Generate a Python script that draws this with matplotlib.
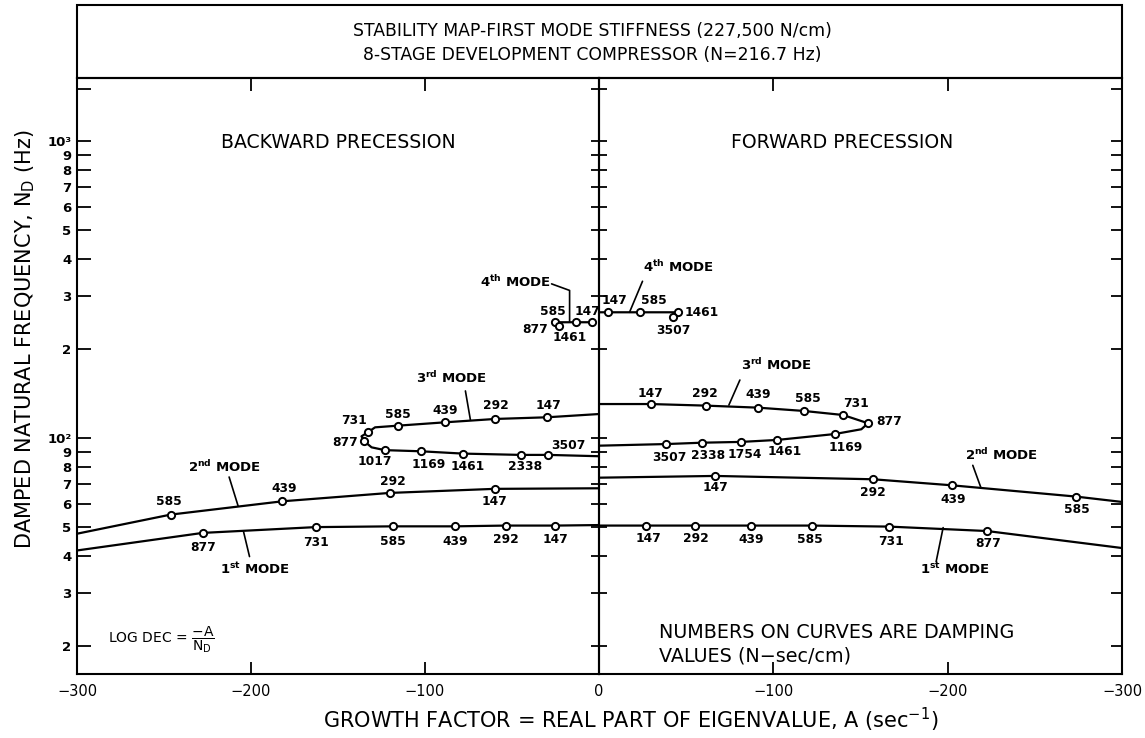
import matplotlib
matplotlib.use("Agg")
import matplotlib.pyplot as plt
from matplotlib.ticker import FixedLocator, FixedFormatter, NullLocator
from matplotlib.patches import Rectangle

plt.rcParams['font.family'] = ['DejaVu Sans']

# ---------------- data ----------------
# Backward precession (left panel): growth factor A (1/s), frequency (Hz), damping labels
b1_A = [-300, -227.8, -162.9, -118.4, -82.9, -53.7, -25.0, 0]
b1_f = [41.8, 47.9, 50.1, 50.4, 50.4, 50.7, 50.7, 50.9]
b1_lab = [None, '877', '731', '585', '439', '292', '147', None]

b2_A = [-300, -246.2, -182.0, -120.4, -60.0, 0]
b2_f = [47.6, 55.2, 61.2, 65.3, 67.4, 67.7]
b2_lab = [None, '585', '439', '292', '147', None]

b3_A = [0, -29.8, -59.5, -88.6, -115.7, -128.7, -132.8, -136.5, -134.8, -130.7, -123.1, -102.4, -78.4, -45.1, -29.1, 0]
b3_f = [120.4, 117.4, 115.9, 112.9, 110.0, 108.6, 104.5, 101.3, 97.4, 93.0, 91.0, 90.2, 88.6, 87.7, 87.7, 86.8]
b3_lab = [None, '147', '292', '439', '585', None, '731', None, '877', None, '1017', '1169', '1461', '2338', '3507', None]

b4_A = [-3.9, -13.5, -25.5, -23.1]
b4_f = [245.3, 245.3, 245.3, 238.8]
b4_lab = ['147', '1461', '585', '877']

# Forward precession (right panel)
f1_A = [0, -27.1, -54.8, -87.0, -122.2, -166.4, -222.6, -300]
f1_f = [50.7, 50.7, 50.7, 50.7, 50.7, 50.3, 48.6, 42.6]
f1_lab = [None, '147', '292', '439', '585', '731', '877', None]

f2_A = [0, -66.7, -157.2, -202.2, -273.4, -300]
f2_f = [73.5, 74.5, 72.6, 69.3, 63.5, 60.9]
f2_lab = [None, '147', '292', '439', '585', None]

f3_A = [0, -29.6, -61.5, -91.2, -117.6, -140.0, -154.3, -150.5, -135.2, -102.3, -81.6, -59.0, -38.6, 0]
f3_f = [130.1, 130.1, 128.5, 126.5, 123.3, 119.5, 112.1, 107.0, 103.1, 98.5, 97.0, 96.4, 95.4, 94.2]
f3_lab = [None, '147', '292', '439', '585', '731', '877', None, '1169', '1461', '1754', '2338', '3507', None]

f4_A = [0, -5.4, -23.3, -45.4, -42.5]
f4_f = [265, 265, 265, 265, 255]
f4_lab = [None, '147', '585', '1461', '3507']

ytick_vals = [20, 30, 40, 50, 60, 70, 80, 90, 100, 200, 300, 400, 500, 600, 700, 800, 900, 1000, 1500]
ytick_labels = ['2', '3', '4', '5', '6', '7', '8', '9', '10\u00b2',
                '2', '3', '4', '5', '6', '7', '8', '9', '10\u00b3', '']
xL_ticks = [-300, -200, -100, 0]
xL_labels = ['\u2212300', '\u2212200', '\u2212100', '0']
xR_ticks = [0, -100, -200, -300]
xR_labels = ['', '\u2212100', '\u2212200', '\u2212300']

# ---------------- layout (label offsets in pixels) ----------------
b1_off = [None, (0, -15), (0, -15), (0, -15), (0, -15), (0, -14), (0, -14), None]
b2_off = [None, (-2, 13), (2, 13), (3, 11), (0, -13), None]
b3_off = [None, (1, 12), (0, 13), (0, 12), (0, 11), None, (-14, 12), None, (-6, -1, 'right'), None,
          (-10, -11), (8, -13), (5, -13), (5, -12), (20, 9), None]
b4_off = [(-5, 11), (-6, -15), (-2, 11), (-11, -4, 'right')]
f1_off = [None, (2, -13), (1, -13), (1, -14), (-2, -14), (2, -15), (1, -12), None]
f2_off = [None, (0, -12), (0, -13), (2, -14), (1, -13), None]
f3_off = [None, (0, 11), (-1, 12), (0, 13), (4, 12), (13, 11), (8, 2, 'left'), None,
          (11, -13), (7, -12), (3, -13), (6, -13), (3, -13), None]
f4_off = [None, (6, 12), (14, 12), (6, 0, 'left'), (0, -13)]

W, H = 1145, 738
fig = plt.figure(figsize=(W / 100, H / 100), dpi=100)
fig.patch.set_facecolor('white')

x_left, x_mid, x_right = 77, 599, 1122
y_top, y_bot = 78, 674
axL = fig.add_axes([x_left / W, 1 - y_bot / H, (x_mid - x_left) / W, (y_bot - y_top) / H])
axR = fig.add_axes([x_mid / W, 1 - y_bot / H, (x_right - x_mid) / W, (y_bot - y_top) / H])

ymin, ymax = 16.04, 1630
LW = 1.6
for ax in (axL, axR):
    ax.set_yscale('log')
    ax.set_ylim(ymin, ymax)
    ax.yaxis.set_major_locator(FixedLocator(ytick_vals))
    ax.yaxis.set_minor_locator(NullLocator())
    ax.xaxis.set_minor_locator(NullLocator())
    for s in ax.spines.values():
        s.set_linewidth(1.5)
        s.set_color('black')
    ax.set_facecolor('none')

axL.set_xlim(-300, 0)
axR.set_xlim(0, -300)
axL.set_xticks(xL_ticks)
axL.set_xticklabels(xL_labels)
axR.set_xticks(xR_ticks)
axR.set_xticklabels(xR_labels)
for ax in (axL, axR):
    ax.tick_params(axis='x', bottom=True, top=True, direction='in', length=9, width=1.3,
                   labelsize=10.5, pad=7)

axL.yaxis.set_major_formatter(FixedFormatter(ytick_labels))
axL.tick_params(axis='y', left=True, right=False, direction='in', length=10, width=1.3,
                labelleft=True, labelsize=9.5, pad=4)
for t in axL.get_yticklabels():
    t.set_fontweight('bold')
axR.tick_params(axis='y', left=True, right=False, direction='inout', length=11, width=1.3,
                labelleft=False)
axR2 = axR.twinx()
axR2.set_yscale('log')
axR2.set_ylim(ymin, ymax)
axR2.yaxis.set_major_locator(FixedLocator(ytick_vals))
axR2.yaxis.set_minor_locator(NullLocator())
axR2.tick_params(axis='y', right=True, direction='in', length=8, width=1.3, labelright=False)
for s in axR2.spines.values():
    s.set_visible(False)


def draw_curve(ax, A, f, labels, offsets):
    ax.plot(A, f, color='black', lw=LW, solid_joinstyle='round', solid_capstyle='round', zorder=2)
    mA = [a for a, l in zip(A, labels) if l is not None]
    mf = [v for v, l in zip(f, labels) if l is not None]
    ax.plot(mA, mf, linestyle='none', marker='o', markersize=5.2, mfc='white', mec='black',
            mew=1.4, zorder=3)
    for a, v, l, o in zip(A, f, labels, offsets):
        if l is None or o is None or l == '':
            continue
        ha = o[2] if len(o) > 2 else 'center'
        ax.annotate(l, (a, v), xytext=(o[0], o[1]), textcoords='offset pixels', ha=ha,
                    va='center', fontsize=8.8, fontweight='bold', annotation_clip=False)


draw_curve(axL, b1_A, b1_f, b1_lab, b1_off)
draw_curve(axL, b2_A, b2_f, b2_lab, b2_off)
draw_curve(axL, b3_A, b3_f, b3_lab, b3_off)
draw_curve(axL, b4_A, b4_f, b4_lab, b4_off)
draw_curve(axR, f1_A, f1_f, f1_lab, f1_off)
draw_curve(axR, f2_A, f2_f, f2_lab, f2_off)
draw_curve(axR, f3_A, f3_f, f3_lab, f3_off)
draw_curve(axR, f4_A, f4_f, f4_lab, f4_off)


def mode_label(ax, text, anchor, lead, txt, ha='center', cs='arc3'):
    ax.annotate('', xy=anchor, xytext=lead, textcoords='offset pixels',
                arrowprops=dict(arrowstyle='-', lw=1.2, color='black', shrinkA=0, shrinkB=0,
                                connectionstyle=cs), annotation_clip=False)
    ax.annotate(text, anchor, xytext=txt, textcoords='offset pixels', ha=ha, va='center',
                fontsize=9.5, fontweight='bold', annotation_clip=False)


sup = lambda n, s: n + r'$^{\mathbf{' + s + '}}$ MODE'
mode_label(axL, sup('4', 'th'), (-16.9, 246), (-18, 38), (-19, 40), ha='right',
           cs='angle,angleA=-20,angleB=90,rad=0')
mode_label(axL, sup('3', 'rd'), (-73.9, 115), (-5, 29), (-19, 42))
mode_label(axL, sup('2', 'nd'), (-207.4, 59.0), (-9, 29), (-14, 39))
mode_label(axL, sup('1', 'st'), (-204.3, 48.4), (6, -25), (11, -37))
mode_label(axR, sup('4', 'th'), (-17.5, 265), (13, 31), (13, 45), ha='left')
mode_label(axR, sup('3', 'rd'), (-74.5, 129.1), (11, 25), (48, 40))
mode_label(axR, sup('2', 'nd'), (-219, 68.2), (-8, 22), (21, 32))
mode_label(axR, sup('1', 'st'), (-197.4, 49.9), (-7, -34), (12, -41))

# ---------------- texts ----------------
fx = lambda x: x / W
fy = lambda y: 1 - y / H
fig.add_artist(Rectangle((fx(x_left), fy(y_top)), (x_right - x_left) / W, (y_top - 5) / H,
                         transform=fig.transFigure, fill=False, lw=1.5, ec='black'))
fig.text(fx(592), fy(31), 'STABILITY MAP-FIRST MODE STIFFNESS (227,500 N/cm)', ha='center',
         va='center', fontsize=12.4)
fig.text(fx(592), fy(55), '8-STAGE DEVELOPMENT COMPRESSOR (N=216.7 Hz)', ha='center',
         va='center', fontsize=12.4)
fig.text(fx(338), fy(143), 'BACKWARD PRECESSION', ha='center', va='center', fontsize=13.6)
fig.text(fx(842), fy(142), 'FORWARD PRECESSION', ha='center', va='center', fontsize=13.6)
fig.text(fx(659), fy(633), 'NUMBERS ON CURVES ARE DAMPING', ha='left', va='center', fontsize=13.8)
fig.text(fx(659), fy(656), 'VALUES (N\u2212sec/cm)', ha='left', va='center', fontsize=13.8)
fig.text(fx(108), fy(640), r'LOG DEC = $\dfrac{-\mathregular{A}}{\mathregular{N_D}}$', ha='left',
         va='center', fontsize=10)
fig.text(fx(631), fy(720), r'GROWTH FACTOR = REAL PART OF EIGENVALUE, A (sec$^{\mathregular{-1}}$)',
         ha='center', va='center', fontsize=15)
fig.text(fx(25), fy(339), r'DAMPED NATURAL FREQUENCY, N$_{\mathregular{D}}$ (Hz)', ha='center',
         va='center', rotation=90, fontsize=15)

fig.savefig('out.png', dpi=100, facecolor='white')
